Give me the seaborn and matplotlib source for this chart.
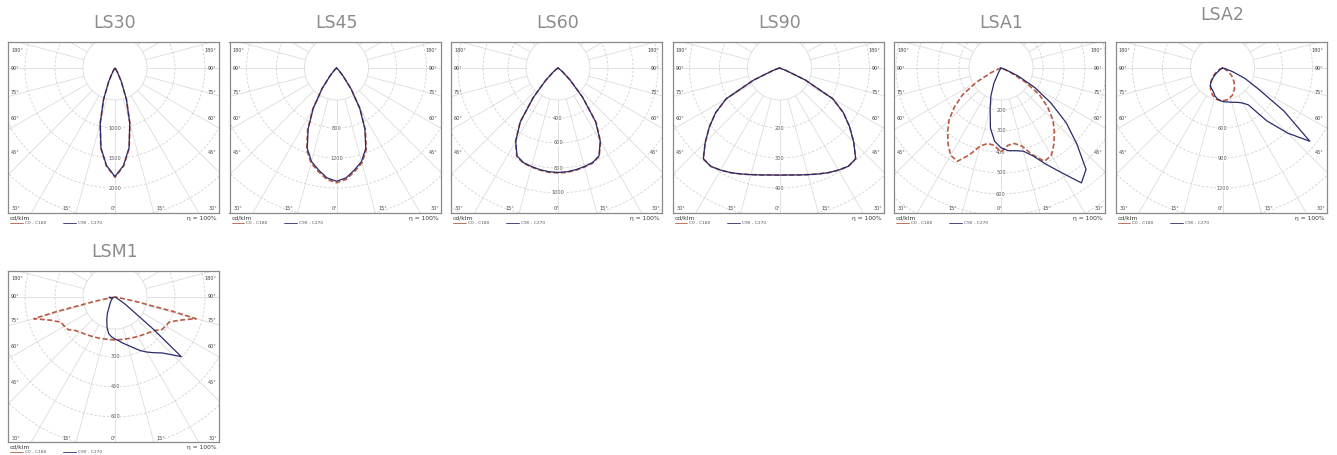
import numpy as np
import seaborn as sns
import matplotlib.pyplot as plt
from matplotlib.patches import Circle

sns.set_style("white")
plt.rcParams['font.family'] = ['DejaVu Sans']

# Panel titles
titles = ["LS30", "LS45", "LS60", "LS90", "LSA1", "LSA2", "LSM1"]

# Ring step (cd/klm) and labelled rings for each panel
ring_step = [500, 400, 200, 100, 100, 300, 150]
ring_px = [30, 30, 25, 30, 21, 30, 30]
ring_labels = [
    [1000, 1500, 2000],
    [800, 1200],
    [400, 600, 800, 1000],
    [200, 300, 400],
    [200, 300, 400, 500, 600],
    [600, 900, 1200],
    [300, 450, 600],
]

# C0 - C180 curves (symmetric, half profile, gamma in degrees)
c0_ang = [
    [0, 5, 10, 15, 20, 25, 30, 35, 40, 45],
    [0, 5, 10, 15, 20, 25, 30, 35, 40, 45, 50, 55, 60],
    [0, 5, 10, 15, 20, 25, 30, 35, 40, 45, 50, 55, 60, 65],
    [0, 5, 10, 15, 20, 25, 30, 35, 40, 45, 50, 55, 60, 65, 70, 75, 80],
    [0, 5, 10, 15, 20, 25, 30, 35, 40, 45, 50, 55, 60, 65, 70, 75, 80],
    [0, 10, 20, 30, 40, 50, 60, 70, 80, 90],
    [0, 10, 20, 30, 40, 50, 55, 60, 65, 70, 74, 75, 76, 78, 80, 85, 90],
]
c0_val = [
    [1820, 1640, 1360, 960, 560, 250, 80, 20, 5, 0],
    [1530, 1490, 1400, 1310, 1160, 910, 630, 340, 130, 35, 8, 0, 0],
    [840, 838, 830, 820, 810, 780, 680, 530, 310, 140, 50, 15, 0, 0],
    [357, 358, 362, 368, 376, 385, 393, 400, 395, 350, 305, 260, 205, 95, 20, 0, 0],
    [400, 370, 365, 385, 440, 490, 480, 440, 395, 350, 290, 225, 135, 50, 10, 0, 0],
    [330, 320, 290, 240, 180, 120, 60, 20, 0, 0],
    [215, 215, 220, 228, 240, 260, 285, 292, 298, 340, 400, 420, 300, 100, 20, 0, 0],
]

# C90 - C270 curves (full profile, negative gamma = C270 side)
c90_ang = [
    [-40, -35, -30, -25, -20, -15, -10, -5, 0, 5, 10, 15, 20, 25, 30, 35, 40],
    [-60, -55, -50, -45, -40, -35, -30, -25, -20, -15, -10, -5, 0,
     5, 10, 15, 20, 25, 30, 35, 40, 45, 50, 55, 60],
    [-65, -60, -55, -50, -45, -40, -35, -30, -25, -20, -15, -10, -5, 0,
     5, 10, 15, 20, 25, 30, 35, 40, 45, 50, 55, 60, 65],
    [-80, -75, -70, -65, -60, -55, -50, -45, -40, -35, -30, -25, -20, -15, -10, -5, 0,
     5, 10, 15, 20, 25, 30, 35, 40, 45, 50, 55, 60, 65, 70, 75, 80],
    [-90, -35, -30, -25, -20, -15, -10, -5, 0, 5, 10, 15, 20, 25, 30, 35,
     40, 45, 50, 55, 60, 65, 70, 75, 90],
    [-90, -60, -55, -50, -45, -40, -35, -30, -25, -20, -15, -10, -5, 0, 5, 10,
     15, 20, 25, 30, 35, 40, 45, 50, 55, 60, 65, 70, 75, 80, 90],
    [-90, -85, -80, -70, -60, -50, -40, -35, -30, -25, -20, -15, -10, -5, 0, 5,
     10, 15, 20, 25, 30, 35, 40, 45, 48, 50, 55, 60, 70, 90],
]
c90_val = [
    [5, 20, 78, 245, 555, 950, 1350, 1630, 1810, 1630, 1350, 950, 555, 245, 78, 20, 5],
    [0, 0, 7, 32, 125, 335, 620, 895, 1140, 1290, 1380, 1470, 1510,
     1470, 1380, 1290, 1140, 895, 620, 335, 125, 32, 7, 0, 0],
    [0, 0, 14, 48, 138, 305, 525, 676, 776, 806, 816, 826, 833, 835,
     833, 826, 816, 806, 776, 676, 525, 305, 138, 48, 14, 0, 0],
    [0, 0, 20, 95, 205, 260, 305, 350, 395, 400, 393, 385, 376, 368, 362, 358, 357,
     358, 362, 368, 376, 385, 393, 400, 395, 350, 305, 260, 205, 95, 20, 0, 0],
    [0, 0, 20, 80, 140, 200, 290, 350, 380, 395, 400, 410, 445, 505, 575, 668,
     630, 510, 405, 290, 185, 90, 25, 0, 0],
    [0, 0, 30, 80, 127, 175, 215, 230, 240, 260, 290, 310, 325, 335, 340, 345,
     355, 365, 380, 405, 450, 690, 920, 1140, 750, 400, 250, 110, 30, 0, 0],
    [25, 30, 25, 10, 15, 25, 35, 45, 60, 90, 120, 155, 185, 200, 210, 220,
     235, 250, 270, 295, 318, 340, 365, 410, 446, 250, 60, 10, 0, 0],
]

RED = "#bb5a44"
BLUE = "#2b2b6b"
GRID = "#dcdcdc"

W, H = 1337, 455
fig = plt.figure(figsize=(W / 100, H / 100), dpi=100)
fig.patch.set_facecolor("white")

box_w, box_h = 211, 171
org_x, org_y = 107, 26


def to_xy(ang, val):
    a = np.radians(np.asarray(ang, float))
    v = np.asarray(val, float)
    return v * np.sin(a), -v * np.cos(a)


for i, name in enumerate(titles):
    if i < 6:
        left, top = 8 + 221.5 * i, 42
    else:
        left, top = 8, 271
    ax = fig.add_axes([left / W, 1 - (top + box_h) / H, box_w / W, box_h / H])
    k = ring_px[i] / ring_step[i]  # px per cd/klm
    ax.set_xlim(-org_x / k, (box_w - org_x) / k)
    ax.set_ylim(-(box_h - org_y) / k, org_y / k)
    ax.set_xticks([])
    ax.set_yticks([])
    for s in ax.spines.values():
        s.set_color("#8a8a8a")
        s.set_linewidth(0.9)

    # polar grid
    r_in = 32 / k
    r_out = 260 / k
    for deg in range(0, 360, 15):
        a = np.radians(deg)
        ax.plot([r_in * np.sin(a), r_out * np.sin(a)],
                [-r_in * np.cos(a), -r_out * np.cos(a)],
                color=GRID, lw=0.6, zorder=1)
    ax.add_patch(Circle((0, 0), r_in, fill=False, ec=GRID, lw=0.6, zorder=1))
    n = 1
    while n * ring_px[i] < 240:
        if n * ring_px[i] > 35:
            ax.add_patch(Circle((0, 0), n * ring_step[i], fill=False, ec="#d2d2d2",
                                lw=0.6, ls=(0, (3, 2)), zorder=1))
        n += 1
    for v in ring_labels[i]:
        ax.text(0, -v, str(v), fontsize=3.6, color="#555555", ha="center", va="center",
                zorder=2, bbox=dict(fc="white", ec="none", pad=0.3))

    # C0 - C180 (red, dashed) mirrored half profile
    ang_full = [-a for a in c0_ang[i][::-1]] + c0_ang[i][1:]
    val_full = c0_val[i][::-1] + c0_val[i][1:]
    rx, ry = to_xy(ang_full, val_full)
    sns.lineplot(x=rx, y=ry, sort=False, estimator=None, color=RED, lw=1.2,
                 linestyle=(0, (3, 1.5)), ax=ax, legend=False, zorder=3)
    # C90 - C270 (blue, solid)
    bx, by = to_xy(c90_ang[i], c90_val[i])
    sns.lineplot(x=bx, y=by, sort=False, estimator=None, color=BLUE, lw=0.9,
                 ax=ax, legend=False, zorder=4)

    # angle labels around the frame
    for lab, dy in zip(["180°", "90°", "75°", "60°", "45°"], [8, 26, 50, 76, 111]):
        ax.text(3 / box_w, 1 - dy / box_h, lab, transform=ax.transAxes, fontsize=3.5,
                color="#444444", ha="left", va="center")
        ax.text(1 - 3 / box_w, 1 - dy / box_h, lab, transform=ax.transAxes, fontsize=3.5,
                color="#444444", ha="right", va="center")
    for lab, dx in zip(["30°", "15°", "0°", "15°", "30°"], [-99, -48, -2, 46, 98]):
        ax.text((org_x + dx) / box_w, 4 / box_h, lab, transform=ax.transAxes,
                fontsize=3.5, color="#444444", ha="center", va="center")

    # texts under the frame
    ax.text(0.01, -0.015, "cd/klm", transform=ax.transAxes, fontsize=4.3,
            color="#333333", ha="left", va="top")
    ax.text(0.99, -0.015, "η = 100%", transform=ax.transAxes, fontsize=4.3,
            color="#333333", ha="right", va="top")
    ax.plot([0.01, 0.07], [-0.06, -0.06], transform=ax.transAxes, color=RED,
            lw=0.6, clip_on=False)
    ax.text(0.08, -0.06, "C0 - C180", transform=ax.transAxes, fontsize=3.2,
            color="#555555", ha="left", va="center")
    ax.plot([0.26, 0.32], [-0.06, -0.06], transform=ax.transAxes, color=BLUE,
            lw=0.6, clip_on=False)
    ax.text(0.33, -0.06, "C90 - C270", transform=ax.transAxes, fontsize=3.2,
            color="#555555", ha="left", va="center")

    # title
    ty = top - 19 if name != "LSA2" else top - 27
    fig.text((left + org_x) / W, 1 - ty / H, name, fontsize=12.5, color="#8c8c8c",
             ha="center", va="center")

fig.savefig("out.png", dpi=100, facecolor="white")
